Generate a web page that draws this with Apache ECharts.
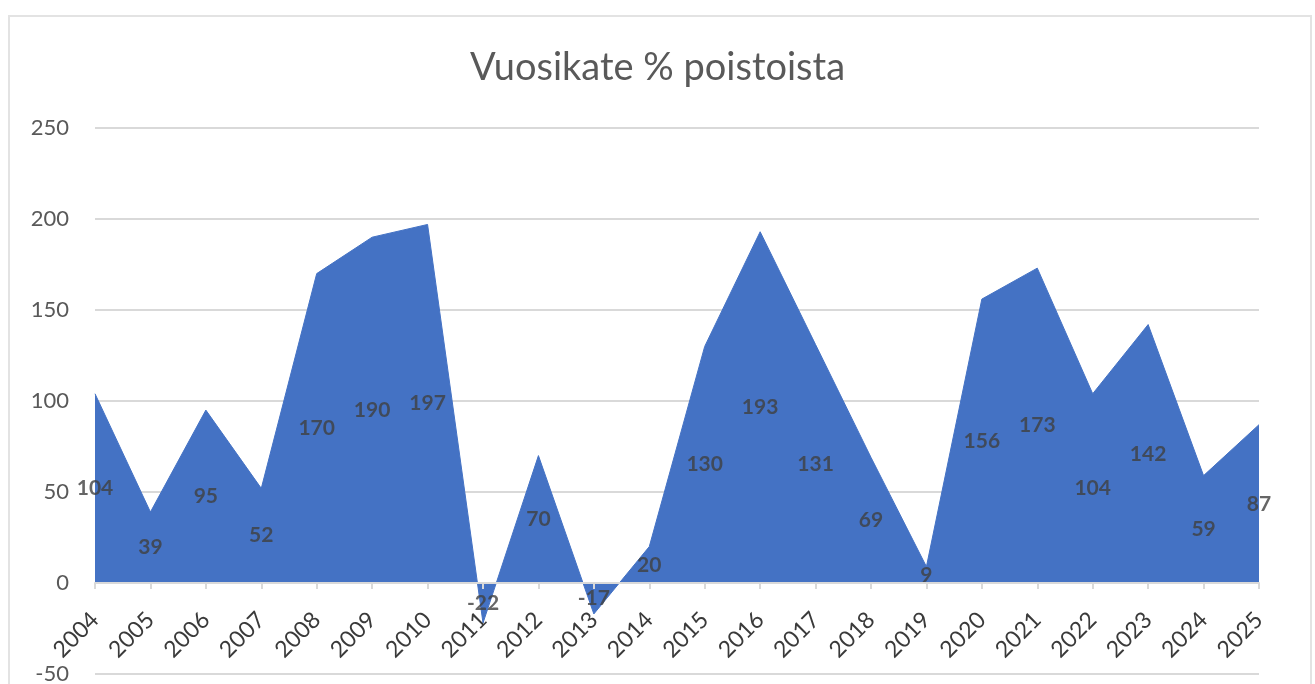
<!DOCTYPE html>
<html>
<head>
<meta charset="utf-8">
<script src="https://cdn.jsdelivr.net/npm/echarts@6/dist/echarts.min.js"></script>
<style>
    html, body { margin: 0; padding: 0; background: #fff; overflow: hidden; }
    #frame {
        position: absolute; left: 8px; top: 15px; width: 1304px; height: 700px;
        border: 2px solid #e3e3e3; box-sizing: border-box;
    }
    #chart { position: absolute; left: 0; top: 0; width: 1315px; height: 684px; }
</style>
</head>
<body>
<div id="frame"></div>
<div id="chart"></div>
<script>
// chart data
let years = ["2004", "2005", "2006", "2007", "2008", "2009", "2010", "2011", "2012", "2013", "2014",
    "2015", "2016", "2017", "2018", "2019", "2020", "2021", "2022", "2023", "2024", "2025"];

let values = [104, 39, 95, 52, 170, 190, 197, -22, 70, -17, 20,
    130, 193, 131, 69, 9, 156, 173, 104, 142, 59, 87];

let y_ticks = [-50, 0, 50, 100, 150, 200, 250];

let title_text = "Vuosikate % poistoista";

let area_color = "#4472C4";
let font_name = "Lato, 'Open Sans', sans-serif";

// grid box
let grid_top = 128;
let grid_bottom = 10;
let grid_height = 684 - grid_top - grid_bottom;

let y_min = y_ticks[0];
let y_max = y_ticks[y_ticks.length - 1];

// category axis sits on the zero line (Excel style), lift it up from the bottom
let zero_offset = -grid_height * (0 - y_min) / (y_max - y_min);

// Excel puts area labels halfway up the value
function label_points() {
    let pts = [];
    for (let i = 0; i < values.length; i++) {
        pts.push([i, values[i] / 2, values[i]]);
    }
    return pts;
}

let chart = echarts.init(document.getElementById("chart"), null, {renderer: "canvas"});

chart.setOption({
    animation: false,
    backgroundColor: "transparent",
    title: {
        text: title_text,
        left: "center",
        top: 44,
        textStyle: {fontFamily: font_name, fontSize: 38, fontWeight: "normal", color: "#595959"}
    },
    grid: {left: 95, right: 56, top: grid_top, bottom: grid_bottom, containLabel: false, outerBoundsMode: "none"},
    xAxis: {
        type: "category",
        data: years,
        boundaryGap: false,
        z: 5,
        offset: zero_offset,
        axisLine: {onZero: false, lineStyle: {color: "#d9d9d9", width: 2}},
        axisTick: {show: true, alignWithLabel: true, length: 6, lineStyle: {color: "#d9d9d9", width: 2}},
        axisLabel: {
            rotate: 45, margin: 33, interval: 0,
            fontFamily: font_name, fontSize: 23, color: "#3a3a3a"
        }
    },
    yAxis: {
        type: "value",
        min: y_min,
        max: y_max,
        interval: 50,
        axisLine: {show: false},
        axisTick: {show: false},
        splitLine: {lineStyle: {color: "#d9d9d9", width: 2}},
        axisLabel: {margin: 26, fontFamily: font_name, fontSize: 22, color: "#595959"}
    },
    series: [
        {
            type: "line",
            data: values,
            symbol: "none",
            lineStyle: {color: area_color, width: 1},
            areaStyle: {color: area_color, opacity: 1},
            z: 2
        },
        {
            type: "scatter",
            data: label_points(),
            symbolSize: 0,
            z: 6,
            label: {
                show: true,
                position: "inside",
                formatter: function (p) { return p.data[2]; },
                fontFamily: font_name, fontSize: 21, fontWeight: "bold", color: "#404040"
            }
        }
    ]
});
</script>
</body>
</html>
